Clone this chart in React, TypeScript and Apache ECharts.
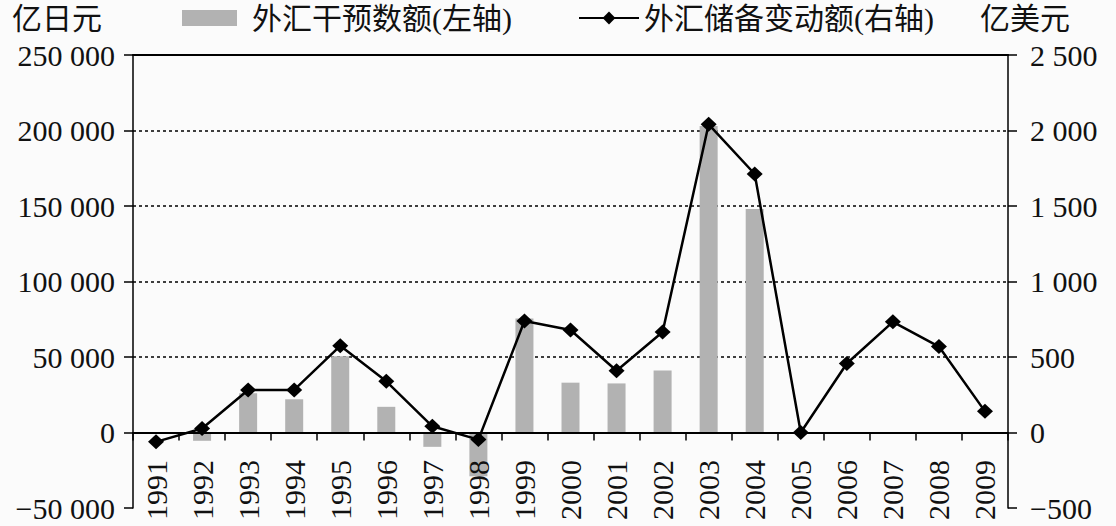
import React, { useEffect, useRef } from 'react';
import * as echarts from 'echarts';

const years = ['1991', '1992', '1993', '1994', '1995', '1996', '1997', '1998', '1999', '2000', '2001', '2002', '2003', '2004', '2005', '2006', '2007', '2008', '2009'];
// 外汇干预数额 (亿日元), left axis
const interventionValues: (number | null)[] = [null, -5500, 26000, 22000, 50500, 17000, -9500, -29000, 75500, 33000, 32500, 41000, 203000, 148000, null, null, null, null, null];
// 外汇储备变动额 (亿美元), right axis
const reserveChangeValues: number[] = [-62, 26, 282, 282, 574, 339, 41, -47, 738, 679, 409, 666, 2041, 1712, 0, 457, 733, 569, 140];

const barName = '外汇干预数额(左轴)';
const lineName = '外汇储备变动额(右轴)';
const leftUnit = '亿日元';
const rightUnit = '亿美元';

const FONT = '"Liberation Serif", "Noto Sans CJK SC", serif';

function fmt(v: number): string {
  const neg = v < 0;
  const s = Math.abs(v).toString().replace(/\B(?=(\d{3})+(?!\d))/g, ' ');
  return (neg ? '\u2212' : '') + s;
}

export default function App() {
  const ref = useRef<HTMLDivElement>(null);
  useEffect(() => {
    if (!ref.current) return;
    const chart = echarts.init(ref.current, undefined, { renderer: 'svg' });
    const gridColors = ['transparent', '#000', '#000', '#000', '#000', '#000', '#000'];
    chart.setOption({
      animation: false,
      backgroundColor: '#fbfbfb',
      textStyle: { fontFamily: FONT },
      grid: { left: 133, right: 108, top: 55, bottom: 18, containLabel: false, outerBoundsMode: 'none' },
      legend: [
        {
          data: [barName],
          left: 177,
          top: -2,
          itemWidth: 55,
          itemHeight: 16,
          icon: 'rect',
          textStyle: { fontFamily: FONT, fontSize: 30, color: '#111', padding: [0, 0, 0, 10] },
        },
        {
          data: [lineName],
          left: 573,
          top: -2,
          itemWidth: 60,
          itemHeight: 16,
          textStyle: { fontFamily: FONT, fontSize: 30, color: '#111' },
        },
      ],
      graphic: [
        { type: 'text', left: 12, top: 3, style: { text: leftUnit, font: `30px ${FONT}`, fill: '#111' } },
        { type: 'text', left: 980, top: 3, style: { text: rightUnit, font: `30px ${FONT}`, fill: '#111' } },
      ],
      xAxis: [
        {
          type: 'category',
          data: years,
          boundaryGap: true,
          z: 3,
          axisLine: { onZero: true, lineStyle: { color: '#000', width: 2 } },
          axisTick: { show: true, interval: 0, length: 8, inside: false, lineStyle: { color: '#000', width: 1.5 } },
          axisLabel: { rotate: 90, margin: -48, fontSize: 30, color: '#111', fontFamily: FONT, interval: 0 },
          splitLine: { show: false },
        },
        {
          type: 'category',
          data: years,
          position: 'top',
          axisLine: { onZero: false, lineStyle: { color: '#000', width: 2 } },
          axisTick: { show: false },
          axisLabel: { show: false },
          splitLine: { show: false },
        },
      ],
      yAxis: [
        {
          type: 'value',
          min: -50000,
          max: 250000,
          interval: 50000,
          position: 'left',
          axisLine: { show: true, onZero: false, lineStyle: { color: '#000', width: 1.5 } },
          axisTick: { show: true, length: 9, inside: false, lineStyle: { color: '#000', width: 1.5 } },
          axisLabel: { margin: 18, fontSize: 30, lineHeight: 24, color: '#111', fontFamily: FONT, formatter: (v: number) => fmt(v) },
          splitLine: { show: true, lineStyle: { color: gridColors, type: [3, 3], width: 1.5 } },
        },
        {
          type: 'value',
          min: -500,
          max: 2500,
          interval: 500,
          position: 'right',
          axisLine: { show: true, onZero: false, lineStyle: { color: '#000', width: 1.5 } },
          axisTick: { show: true, length: 9, inside: false, lineStyle: { color: '#000', width: 1.5 } },
          axisLabel: { margin: 22, fontSize: 30, lineHeight: 24, color: '#111', fontFamily: FONT, formatter: (v: number) => fmt(v) },
          splitLine: { show: false },
        },
      ],
      series: [
        {
          name: barName,
          type: 'bar',
          xAxisIndex: 0,
          yAxisIndex: 0,
          data: interventionValues,
          barWidth: 18,
          itemStyle: { color: '#b2b2b2' },
        },
        {
          name: lineName,
          type: 'line',
          xAxisIndex: 0,
          yAxisIndex: 1,
          z: 5,
          data: reserveChangeValues,
          symbol: 'diamond',
          symbolSize: [16, 15],
          lineStyle: { color: '#000', width: 2.5 },
          itemStyle: { color: '#000' },
        },
      ],
    });
    return () => chart.dispose();
  }, []);
  return <div ref={ref} style={{ position: 'absolute', left: 0, top: 0, width: 1116, height: 526 }} />;
}
